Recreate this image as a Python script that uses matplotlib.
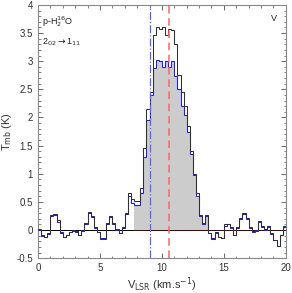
import numpy as np
import matplotlib.pyplot as plt

plt.rcParams['font.family'] = ['Liberation Sans', 'DejaVu Sans']

# channel width (km/s) and spectra
dv = 0.25
tmb_obs = [0.02, -0.08, -0.12, -0.05, 0.27, 0.28, 0.18, -0.03,
           -0.12, -0.08, -0.03, 0.0, -0.02, -0.08, 0.0, 0.12,
           0.32, 0.25, 0.05, -0.03, -0.15, -0.15, 0.12, 0.25,
           0.12, 0.02, -0.05, 0.05, 0.30, 0.65, 0.55, 0.52,
           0.52, 0.75, 1.45, 2.15, 2.45, 3.47, 3.60, 3.57,
           3.60, 3.47, 3.57, 3.55, 3.30, 2.75, 2.45, 2.20,
           1.85, 1.40, 1.00, 0.65, 0.27, 0.12, 0.27, -0.05,
           -0.15, -0.04, -0.12, -0.14, 0.10, 0.11, 0.05, -0.08,
           0.05, 0.22, 0.30, 0.22, 0.05, -0.02, 0.0, 0.16,
           0.07, 0.02, 0.08, -0.06, -0.17, -0.28, -0.08, 0.07]
tmb_fit = [0.0, -0.10, -0.13, -0.07, 0.25, 0.26, 0.15, -0.05,
           -0.13, -0.09, -0.04, -0.01, -0.03, -0.09, -0.01, 0.10,
           0.30, 0.23, 0.03, -0.04, -0.16, -0.16, 0.10, 0.23,
           0.10, 0.0, -0.06, 0.03, 0.28, 0.60, 0.48, 0.45,
           0.45, 0.65, 1.30, 1.95, 2.40, 2.88, 3.02, 3.00,
           2.90, 3.00, 2.90, 3.00, 2.73, 2.50, 2.20, 2.05,
           1.75, 1.35, 0.98, 0.60, 0.25, 0.10, 0.25, -0.06,
           -0.16, -0.05, -0.13, -0.15, 0.08, 0.10, 0.03, -0.09,
           0.03, 0.20, 0.28, 0.20, 0.03, -0.03, -0.01, 0.14,
           0.05, 0.0, 0.06, -0.07, -0.18, -0.29, -0.09, 0.05]
fill_range = (7.75, 13.75)
v_blue = 9.0
v_red = 10.6

edges = np.arange(len(tmb_obs) + 1) * dv
obs = np.array(tmb_obs)
fit = np.array(tmb_fit)

fig = plt.figure(figsize=(2.92, 2.93), dpi=100)
ax = fig.add_axes([0.130, 0.119, 0.849, 0.864])

# grey area under the fit within the integration window
mask = (edges[:-1] >= fill_range[0]) & (edges[1:] <= fill_range[1])
idx = np.where(mask)[0]
ax.stairs(fit[idx], edges[idx[0]:idx[-1] + 2], baseline=0, fill=True,
          color='#cccccc', lw=0, zorder=1)

ax.axhline(0, color='black', lw=0.7, zorder=2)
ax.plot([fill_range[0], 20], [0, 0], color='#500000', lw=0.7, zorder=2)

ax.stairs(obs, edges, color='#303030', lw=0.75, zorder=4)
ax.stairs(fit, edges, color='#1a1aff', lw=0.75, zorder=3)

ax.axvline(v_blue, color='#6060ff', lw=0.9, ls='-.', zorder=5)
ax.axvline(v_red, color='#ff6666', lw=1.1, ls=(0, (5, 3)), zorder=5)

ax.set_xlim(0, 20)
ax.set_ylim(-0.5, 4)
ax.set_xticks([0, 5, 10, 15, 20])
ax.set_xticks(np.arange(0, 21, 1), minor=True)
ax.set_yticks(np.arange(-0.5, 4.01, 0.5))
ax.set_yticklabels(['-0.5', '0', '0.5', '1', '1.5', '2', '2.5', '3', '3.5', '4'])
ax.set_yticks(np.arange(-0.5, 4.01, 0.1), minor=True)
ax.tick_params(which='both', direction='in', top=True, right=True,
               labelsize=7, colors='#555555', labelcolor='#333333')
ax.tick_params(which='major', length=3.5, width=0.6)
ax.tick_params(which='minor', length=1.8, width=0.5)
for s in ax.spines.values():
    s.set_color('#888888')
    s.set_linewidth(0.8)

ax.set_xlabel(r'V$_{\rm LSR}$ (km.s$^{-1}$)', fontsize=8, color='#333333', labelpad=2)
ax.set_ylabel(r'T$_{\rm mb}$ (K)', fontsize=8, color='#333333', labelpad=2)

ax.text(0.015, 0.965, r'p-H$_2^{16}$O', transform=ax.transAxes, fontsize=6.5,
        va='top', ha='left', color='#222222')
ax.text(0.015, 0.875, r'2$_{02}$$\rightarrow$1$_{11}$', transform=ax.transAxes,
        fontsize=6.5, va='top', ha='left', color='#222222')
ax.text(0.965, 0.965, 'V', transform=ax.transAxes, fontsize=6.5,
        va='top', ha='right', color='#222222')

fig.savefig('out.png', dpi=100)
